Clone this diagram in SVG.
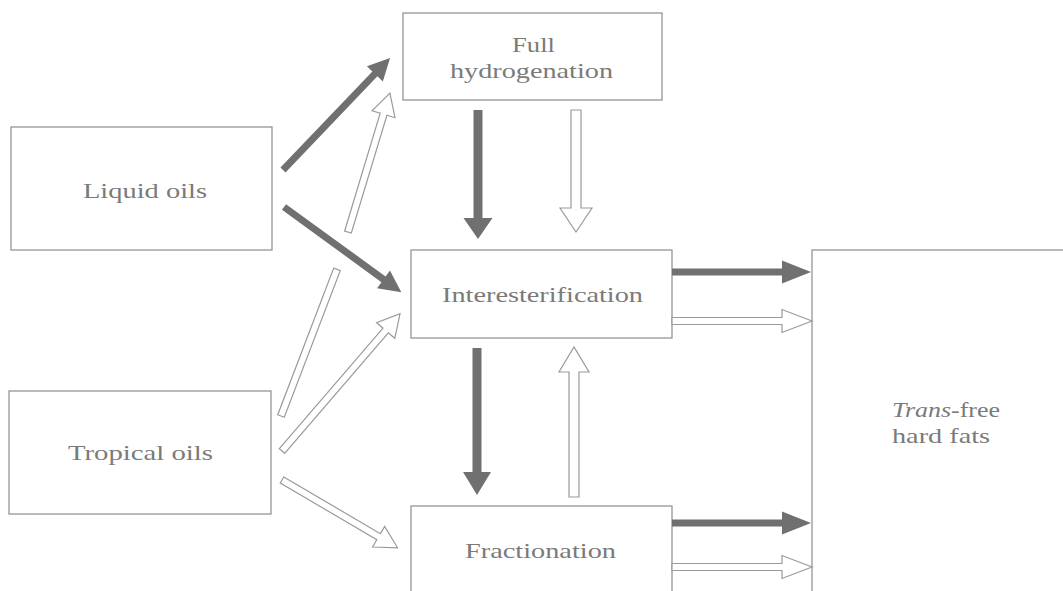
<svg xmlns="http://www.w3.org/2000/svg" width="1063" height="591" viewBox="0 0 1063 591">
<style>
.box{fill:#fff;stroke:#8c8c8c;stroke-width:1.2}
.lbl{font-family:"Liberation Serif","Times New Roman",serif;font-size:21px;fill:#7a7a7a}
.dark{fill:#707070;stroke:none}
.hollow{fill:#fff;stroke:#9a9a9a;stroke-width:1.2}
</style>
<rect width="1063" height="591" fill="#fff"/>
<g id="liquid-oils">
<rect class="box" x="11" y="127" width="261" height="123"/>
<text class="lbl" x="83" y="198" textLength="124" lengthAdjust="spacingAndGlyphs">Liquid oils</text>
</g>
<g id="tropical-oils">
<rect class="box" x="9" y="391" width="262" height="123"/>
<text class="lbl" x="68" y="460" textLength="145" lengthAdjust="spacingAndGlyphs">Tropical oils</text>
</g>
<g id="full-hydrogenation">
<rect class="box" x="403" y="13" width="259" height="87"/>
<text class="lbl" x="512" y="52" textLength="43" lengthAdjust="spacingAndGlyphs">Full</text>
<text class="lbl" x="450" y="78" textLength="163" lengthAdjust="spacingAndGlyphs">hydrogenation</text>
</g>
<g id="interesterification">
<rect class="box" x="411" y="250" width="261" height="88"/>
<text class="lbl" x="442" y="302" textLength="201" lengthAdjust="spacingAndGlyphs">Interesterification</text>
</g>
<g id="fractionation">
<rect class="box" x="411" y="506" width="261" height="100"/>
<text class="lbl" x="465" y="558" textLength="151" lengthAdjust="spacingAndGlyphs">Fractionation</text>
</g>
<g id="trans-free-hard-fats">
<rect class="box" x="812" y="250" width="270" height="360"/>
<text class="lbl" x="892" y="417" textLength="108" lengthAdjust="spacingAndGlyphs"><tspan font-style="italic">Trans</tspan>-free</text>
<text class="lbl" x="892" y="443" textLength="98" lengthAdjust="spacingAndGlyphs">hard fats</text>
</g>
<g id="connectors">
<path class="dark" transform="translate(283,170) rotate(-46.3)" d="M0,-3.5 H133 V-11 L155,0 L133,11 V3.5 H0 Z"/>
<rect class="hollow" transform="translate(281,416) rotate(-69.1)" x="0" y="-3.5" width="157" height="7"/>
<path class="hollow" transform="translate(348,232) rotate(-73.2)" d="M0,-3.5 H123 V-12 L145,0 L123,12 V3.5 H0 Z"/>
<path class="dark" transform="translate(284,207) rotate(36)" d="M0,-3.5 H123 V-11 L145,0 L123,11 V3.5 H0 Z"/>
<path class="hollow" transform="translate(282,451) rotate(-49.3)" d="M0,-3.5 H159 V-12 L181,0 L159,12 V3.5 H0 Z"/>
<path class="hollow" transform="translate(282,480) rotate(30.4)" d="M0,-3.5 H112 V-12 L134,0 L112,12 V3.5 H0 Z"/>
<path class="dark" d="M473.5,110 H482.5 V218 H492.5 L478,239 L463.5,218 H473.5 Z"/>
<path class="hollow" d="M571,110 H581 V208 H592 L576,232 L560,208 H571 Z"/>
<path class="dark" d="M472.5,348 H481.5 V472 H491 L477,495 L463,472 H472.5 Z"/>
<path class="hollow" d="M569,497 V372 H559 L574,347 L589,372 H579 V497 Z"/>
<path class="dark" d="M672,268.5 H782 V260.5 L811,272 L782,283.5 V275.5 H672 Z"/>
<path class="hollow" d="M672,317.5 H782 V309.5 L812,321 L782,332.5 V324.5 H672 Z"/>
<path class="dark" d="M672,519.5 H782 V511.5 L811,523 L782,534.5 V526.5 H672 Z"/>
<path class="hollow" d="M672,563.5 H782 V555.5 L812,567 L782,578.5 V570.5 H672 Z"/>
</g>
</svg>
